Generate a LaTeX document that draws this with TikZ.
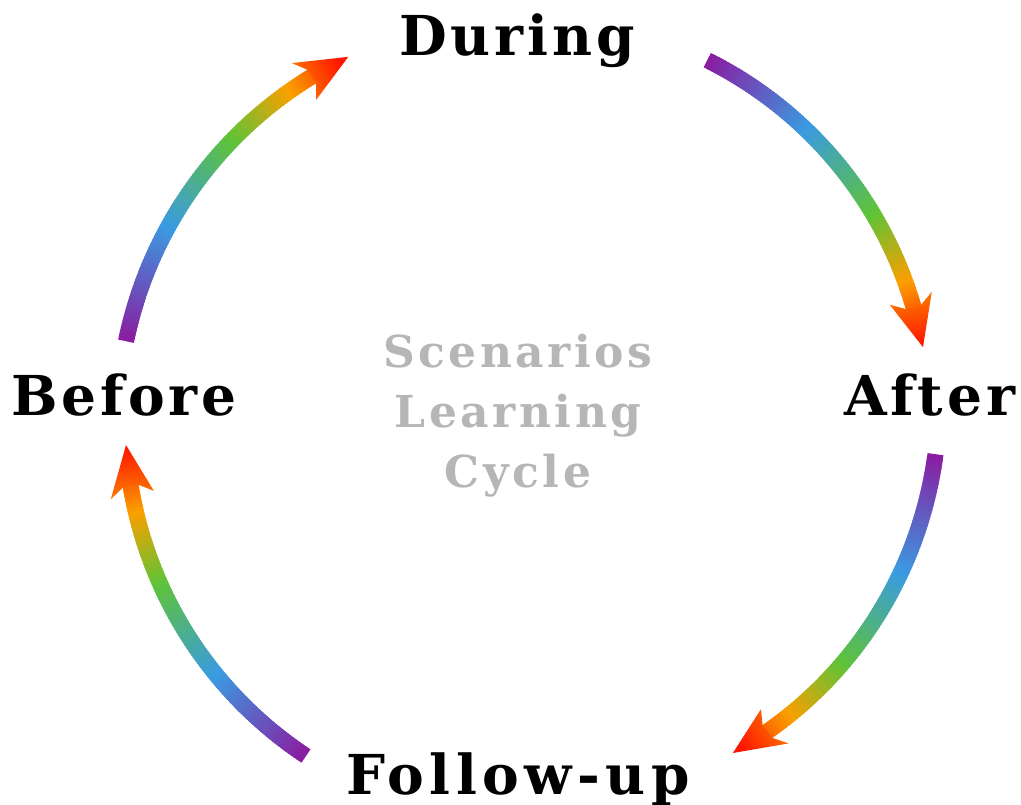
\documentclass[tikz,border=0pt]{standalone}
\usepackage{fontspec}
\setmainfont{DejaVu Serif}
\newfontfamily\labfont[LetterSpace=7]{DejaVu Serif}
\newfontfamily\folfont[LetterSpace=10]{DejaVu Serif}
\newfontfamily\ctrfont[LetterSpace=8]{DejaVu Serif}
\definecolor{gA}{RGB}{140,26,160}
\definecolor{gB}{RGB}{58,155,225}
\definecolor{gC}{RGB}{95,195,55}
\definecolor{gD}{RGB}{250,160,0}
\definecolor{gE}{RGB}{255,20,0}
\definecolor{ctrgray}{RGB}{182,182,182}
\newcommand\setcol[1]{%
 \pgfmathsetmacro\gt{#1}%
 \ifdim\gt pt<0.33pt \pgfmathsetmacro\ff{max(0,min(100,100*(1-\gt/0.33)))}\colorlet{cur}{gA!\ff!gB}%
 \else\ifdim\gt pt<0.62pt \pgfmathsetmacro\ff{max(0,min(100,100*(1-(\gt-0.33)/0.29)))}\colorlet{cur}{gB!\ff!gC}%
 \else\ifdim\gt pt<0.82pt \pgfmathsetmacro\ff{max(0,min(100,100*(1-(\gt-0.62)/0.20)))}\colorlet{cur}{gC!\ff!gD}%
 \else \pgfmathsetmacro\ff{max(0,min(100,100*(1-(\gt-0.82)/0.18)))}\colorlet{cur}{gD!\ff!gE}%
 \fi\fi\fi}
\newcommand\gradarc[4]{%
 \pgfmathsetmacro\dA{#3-#1}%
 \pgfmathsetmacro\sg{sign(\dA)}%
 \pgfmathsetmacro\shf{1-4.8/abs(\dA)}%
 \foreach \i in {0,...,89}{%
   \pgfmathsetmacro\tA{\i/90*\shf}%
   \pgfmathsetmacro\tB{min((\i+1.7)/90*\shf,\shf)}%
   \pgfmathsetmacro\tM{(\tA+\tB)/2}%
   \setcol{\tM}%
   \pgfmathsetmacro\angA{#1+\tA*\dA}\pgfmathsetmacro\radA{#2+\tA*(#4-#2)}%
   \pgfmathsetmacro\angB{#1+\tB*\dA}\pgfmathsetmacro\radB{#2+\tB*(#4-#2)}%
   \draw[line width=16, cur] ([shift={(\angA:\radA)}]O) -- ([shift={(\angB:\radB)}]O);%
 }%
 \pgfmathsetmacro\tBk{1-7.2/abs(\dA)}%
 \pgfmathsetmacro\tN{1-5.9/abs(\dA)}%
 \pgfmathsetmacro\angBk{#1+\tBk*\dA}\pgfmathsetmacro\radBk{#2+\tBk*(#4-#2)}%
 \pgfmathsetmacro\angN{#1+\tN*\dA}\pgfmathsetmacro\radN{#2+\tN*(#4-#2)}%
 \setcol{\tBk}\colorlet{hb}{cur}%
 \pgfmathsetmacro\shang{#3+\sg*90-90}%
 \shade[top color=gE, bottom color=hb, shading angle=\shang]
   ([shift={(#3:#4)}]O) -- ([shift={(\angBk:\radBk+22)}]O) -- ([shift={(\angN:\radN+8)}]O)
   -- ([shift={(\angN:\radN-8)}]O) -- ([shift={(\angBk:\radBk-22)}]O) -- cycle;
}
\tikzset{
 lab/.style={font=\labfont\bfseries\fontsize{55}{60}\selectfont, anchor=base, inner sep=0pt},
 ctr/.style={font=\ctrfont\bfseries\fontsize{44}{50}\selectfont, text=ctrgray, anchor=base, inner sep=0pt}
}
\begin{document}
\begin{tikzpicture}[x=1pt,y=1pt]
\useasboundingbox (0,0) rectangle (1021,-804);
\coordinate (O) at (527,-417);
\gradarc{169.3}{408.1}{116.4}{402.1}
\gradarc{63.2}{399.8}{10.0}{402.1}
\gradarc{-5.2}{410.2}{-58.5}{394.1}
\gradarc{236.9}{404.7}{184.0}{402.0}
\node[lab] (dur) at (517,-55) {During};
\node[lab] (aft) at (930,-415) {After};
\node[lab] (bef) at (124,-415) {Before};
\node[lab, font=\folfont\bfseries\fontsize{55}{60}\selectfont] (fol) at (518,-794) {Follow-up};
\node[ctr] (ctr1) at (518,-367) {Scenarios};
\node[ctr] (ctr2) at (518,-427) {Learning};
\node[ctr] (ctr3) at (518,-487) {Cycle};
\end{tikzpicture}
\end{document}
